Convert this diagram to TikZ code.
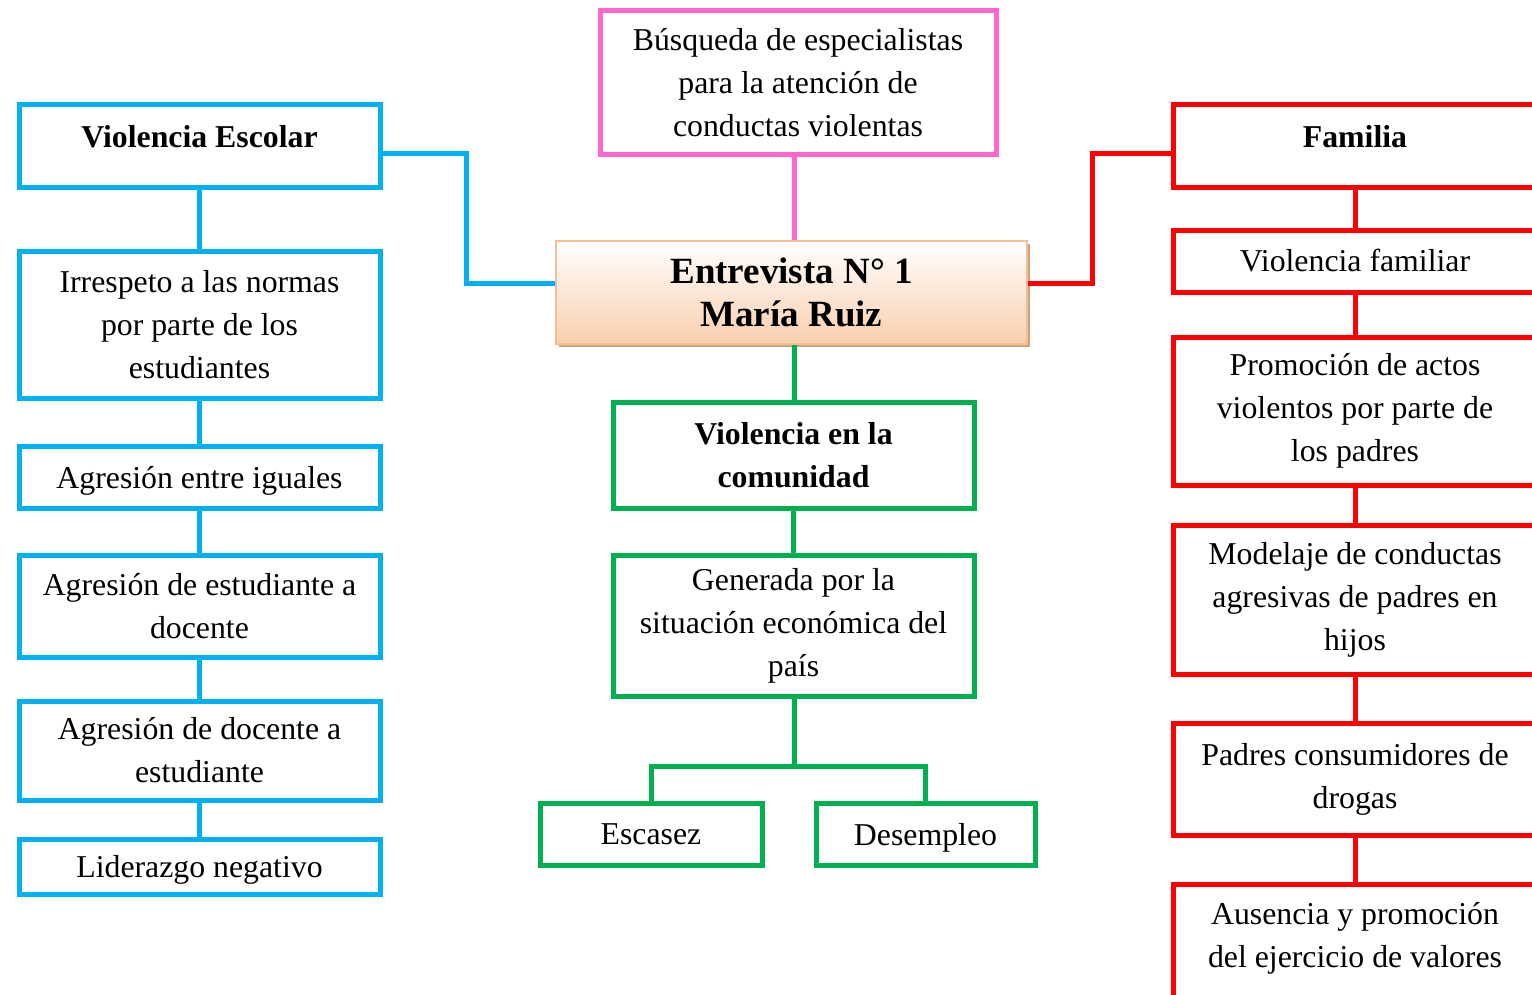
\documentclass[tikz,border=0pt]{standalone}
\usepackage{fontspec}
\setmainfont{Liberation Serif}
\usetikzlibrary{shadows}
\definecolor{azul}{HTML}{00B0F0}
\definecolor{rosa}{HTML}{FF66CC}
\definecolor{verde}{HTML}{00B050}
\definecolor{rojo}{HTML}{FF0000}
\definecolor{durazno}{HTML}{F9CFAE}
\definecolor{borde}{HTML}{F6BE93}
\definecolor{sombra}{HTML}{C49A74}
\begin{document}
\begin{tikzpicture}[x=0.5pt,y=-0.5pt,
		caja/.style={draw, rectangle, line width=2.5pt, inner sep=0pt, align=center, fill=white, font=\fontsize{15.9}{21.5}\selectfont},
		cazul/.style={caja, draw=azul, minimum width=180.5pt},
		cverde/.style={caja, draw=verde},
		crojo/.style={caja, draw=rojo, minimum width=182pt},
		enlace/.style={line width=2.5pt},
		cadena/.style={enlace, shorten <=-1.5pt, shorten >=-1.5pt}]
				\path[use as bounding box, clip] (0,0) rectangle (1532,995);
				\node[caja, draw=rosa, minimum width=198pt, minimum height=72pt] (busq) at (798,83) {Búsqueda de especialistas\\para la atención de\\conductas violentas};
				\node[draw=borde, line width=1.2pt, minimum width=235.5pt, minimum height=51.5pt, align=center, top color=white, bottom color=durazno, drop shadow={shadow xshift=1.5pt, shadow yshift=-1.5pt, fill=sombra, opacity=0.9}, font=\fontsize{18.5}{21.5}\selectfont\bfseries] (entrev) at (791.5,292.5) {Entrevista N° 1\\María Ruiz};
				\node[cazul, minimum height=41.5pt] (vesc) at (199.5,146.5) {\textbf{Violencia Escolar}\\[-11pt]\mbox{}};
				\node[cazul, minimum height=73.5pt] (irresp) at (199.5,324.5) {Irrespeto a las normas\\por parte de los\\estudiantes};
				\node[cazul, minimum height=31pt, text depth=0pt] (iguales) at (199.5,477) {Agresión entre iguales};
				\node[cazul, minimum height=51pt] (estdoc) at (199.5,606) {Agresión de estudiante a\\docente};
				\node[cazul, minimum height=49.5pt] (docest) at (199.5,750.5) {Agresión de docente a\\estudiante};
				\node[cazul, minimum height=27.5pt, text depth=0pt] (lider) at (199.5,866.5) {Liderazgo negativo};
				\node[cverde, minimum width=180.5pt, minimum height=53pt] (vcom) at (793.5,455) {\textbf{Violencia en la}\\\textbf{comunidad}};
				\node[cverde, minimum width=180.5pt, minimum height=70.5pt] (gen) at (793.5,625.5) {Generada por la\\situación económica del\\país};
				\node[cverde, minimum width=111pt, minimum height=31pt] (esc) at (651,834) {Escasez};
				\node[cverde, minimum width=109.5pt, minimum height=31pt, text depth=0pt] (desemp) at (925.5,834) {Desempleo};
				\node[crojo, minimum height=41.5pt] (fam) at (1355,146.5) {\textbf{Familia}\\[-11pt]\mbox{}};
				\node[crojo, minimum height=31pt] (vfam) at (1355,261) {Violencia familiar};
				\node[crojo, minimum height=74pt] (promo) at (1355,411) {Promoción de actos\\violentos por parte de\\los padres};
				\node[crojo, minimum height=74.5pt] (model) at (1355,599.5) {Modelaje de conductas\\agresivas de padres en\\hijos};
				\node[crojo, minimum height=56pt] (drogas) at (1355,779) {Padres consumidores de\\drogas};
				\node[crojo, minimum height=61pt] (valores) at (1355,945) {Ausencia y promoción\\del ejercicio de valores\\[-11pt]\mbox{}};
				\coordinate (gsplit) at (794,766);
				\draw[enlace, rosa] (busq.south -| 794,0) -- (entrev.north -| 794,0);
				\draw[enlace, azul] (vesc.east |- 0,154) -- (466,154) |- (entrev.west |- 0,283);
				\draw[cadena, azul] (vesc.south) -- (irresp.north);
				\draw[cadena, azul] (irresp.south) -- (iguales.north);
				\draw[cadena, azul] (iguales.south) -- (estdoc.north);
				\draw[cadena, azul] (estdoc.south) -- (docest.north);
				\draw[cadena, azul] (docest.south) -- (lider.north);
				\draw[enlace, verde] (entrev.south -| 794,0) -- (vcom.north -| 794,0);
				\draw[cadena, verde] (vcom.south) -- (gen.north);
				\draw[cadena, verde] (gen.south -| gsplit) -- (gsplit);
				\draw[cadena, verde] (esc.north) |- (gsplit) -| (desemp.north);
				\draw[enlace, rojo] (fam.west |- 0,154) -- (1092,154) |- (entrev.east |- 0,283);
				\draw[cadena, rojo] (fam.south) -- (vfam.north);
				\draw[cadena, rojo] (vfam.south) -- (promo.north);
				\draw[cadena, rojo] (promo.south) -- (model.north);
				\draw[cadena, rojo] (model.south) -- (drogas.north);
				\draw[cadena, rojo] (drogas.south) -- (valores.north);
			\end{tikzpicture}
\end{document}
